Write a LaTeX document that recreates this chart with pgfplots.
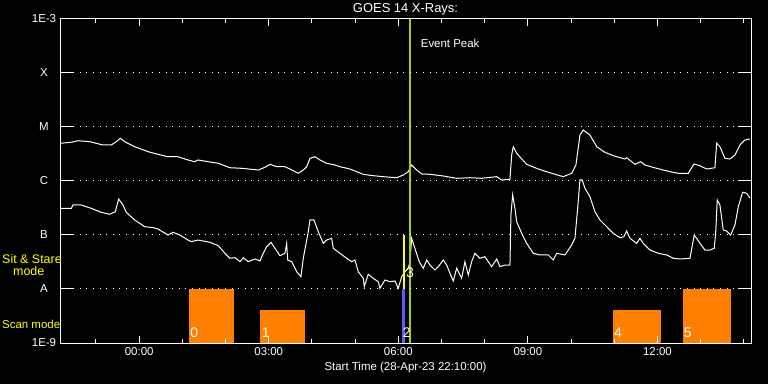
\documentclass[border=0pt]{standalone}
\usepackage{pgfplots}
\pgfplotsset{compat=1.18}
\usepackage{fontspec}
\setmainfont{Liberation Sans}
\definecolor{barorange}{RGB}{255,128,0}
\definecolor{evgreen}{RGB}{160,210,0}
\definecolor{scanblue}{RGB}{90,90,255}
\definecolor{idlyellow}{RGB}{255,255,0}
\newcommand{\tf}{\fontsize{11.5}{13}\selectfont}
\begin{document}
\begin{tikzpicture}
\fill[black] (0,0) rectangle (768bp,384bp);
\useasboundingbox (0,0) rectangle (768bp,384bp);
\begin{axis}[
  at={(60bp,41bp)}, anchor=south west,
  scale only axis, width=691bp, height=324bp,
  xmin=-1.8333, xmax=14.1667, ymin=-9, ymax=-3,
  axis on top,
  axis line style={white, line width=1bp},
  xtick={0,3,6,9,12}, xticklabels={00:00,03:00,06:00,09:00,12:00},
  minor xtick={-1,1,2,4,5,7,8,10,11,13,14},
  ytick={-9,-8,-7,-6,-5,-4,-3}, yticklabels={1E-9,A,B,C,M,X,1E-3},
  tick align=inside,
  tick style={white, line width=1bp},
  xtick style={/pgfplots/major tick length=7bp, /pgfplots/minor tick length=4bp},
  ytick style={/pgfplots/major tick length=13bp},
  ymajorgrids,
  y grid style={white, line width=1bp, dash pattern=on 1bp off 5.6bp},
  tick label style={white, font=\tf},
  yticklabel style={anchor=center, xshift=-16bp},
  xticklabel style={yshift=-1bp},
]
% scan bars
\addplot[fill=barorange, draw=none] coordinates {(1.153,-9) (1.153,-8) (2.195,-8) (2.195,-9)} --cycle;
\addplot[fill=barorange, draw=none] coordinates {(2.797,-9) (2.797,-8.389) (3.839,-8.389) (3.839,-9)} --cycle;
\addplot[fill=barorange, draw=none] coordinates {(10.970,-9) (10.970,-8.389) (12.081,-8.389) (12.081,-9)} --cycle;
\addplot[fill=barorange, draw=none] coordinates {(12.592,-9) (12.592,-8) (13.703,-8) (13.703,-9)} --cycle;
\addplot[fill=scanblue, draw=none] coordinates {(6.085,-9) (6.085,-8) (6.154,-8) (6.154,-9)} --cycle;
% long channel (1-8 A)
\addplot[white, line width=1bp, mark=none] table {
-1.833 -5.302
-1.572 -5.283
-1.417 -5.254
-1.146 -5.272
-0.838 -5.333
-0.646 -5.333
-0.530 -5.272
-0.438 -5.209
-0.336 -5.272
-0.104 -5.365
0.204 -5.457
0.435 -5.506
0.667 -5.550
0.898 -5.550
1.130 -5.611
1.285 -5.643
1.361 -5.611
1.600 -5.643
1.831 -5.672
2.102 -5.754
2.373 -5.765
2.758 -5.796
2.913 -5.746
3.029 -5.691
3.184 -5.735
3.376 -5.735
3.531 -5.796
3.684 -5.857
3.800 -5.796
3.878 -5.735
3.955 -5.580
4.070 -5.550
4.186 -5.611
4.341 -5.672
4.534 -5.704
4.649 -5.735
4.881 -5.778
5.189 -5.876
5.420 -5.902
5.652 -5.920
5.962 -5.939
6.115 -5.889
6.231 -5.828
6.309 -5.704
6.425 -5.796
6.541 -5.870
6.733 -5.876
7.041 -5.907
7.351 -5.950
7.659 -5.939
7.930 -5.950
8.278 -5.920
8.393 -5.981
8.585 -5.969
8.625 -5.519
8.662 -5.365
8.741 -5.487
8.972 -5.691
9.241 -5.778
9.551 -5.857
9.819 -5.920
10.014 -5.857
10.113 -5.704
10.206 -5.148
10.282 -5.056
10.437 -5.148
10.593 -5.365
10.785 -5.469
10.977 -5.531
11.248 -5.593
11.287 -5.569
11.480 -5.691
11.612 -5.643
11.711 -5.704
11.982 -5.765
12.290 -5.828
12.482 -5.857
12.714 -5.857
12.846 -5.685
12.985 -5.717
13.140 -5.778
13.332 -5.754
13.371 -5.302
13.447 -5.365
13.563 -5.580
13.679 -5.593
13.795 -5.519
13.911 -5.333
14.026 -5.241
14.142 -5.222
};
% short channel (0.5-4 A)
\addplot[white, line width=1bp, mark=none] table {
-1.833 -6.506
-1.572 -6.506
-1.533 -6.444
-1.341 -6.444
-1.109 -6.506
-0.878 -6.580
-0.683 -6.617
-0.553 -6.569
-0.475 -6.333
-0.375 -6.444
-0.299 -6.580
-0.104 -6.722
0.127 -6.846
0.336 -6.865
0.435 -6.889
0.667 -7.000
0.783 -6.950
0.938 -7.000
1.130 -7.093
1.206 -7.124
1.361 -7.093
1.639 -7.135
1.831 -7.198
1.987 -7.339
2.102 -7.431
2.218 -7.420
2.334 -7.494
2.410 -7.420
2.526 -7.494
2.681 -7.444
2.797 -7.481
2.873 -7.339
2.952 -7.217
3.052 -7.135
3.144 -7.246
3.260 -7.383
3.376 -7.339
3.415 -7.154
3.438 -7.463
3.531 -7.494
3.647 -7.680
3.746 -7.772
3.800 -7.431
3.915 -6.939
3.955 -6.722
4.047 -6.722
4.147 -6.939
4.263 -7.154
4.341 -7.093
4.457 -7.061
4.494 -7.246
4.649 -7.339
4.804 -7.431
4.920 -7.494
4.996 -7.463
5.073 -7.680
5.189 -7.802
5.212 -7.957
5.304 -7.728
5.420 -7.802
5.536 -7.865
5.575 -7.987
5.691 -7.833
5.807 -7.865
5.923 -7.852
5.999 -7.987
6.078 -7.772
6.154 -7.680
6.231 -7.617
6.270 -7.494
6.309 -7.061
6.409 -7.309
6.485 -7.494
6.578 -7.617
6.657 -7.463
6.733 -7.556
6.849 -7.648
6.925 -7.587
7.041 -7.463
7.120 -7.556
7.196 -7.709
7.272 -7.852
7.351 -7.617
7.467 -7.802
7.543 -7.494
7.620 -7.741
7.698 -7.494
7.775 -7.339
7.891 -7.431
8.006 -7.402
8.162 -7.587
8.278 -7.444
8.354 -7.587
8.470 -7.556
8.585 -7.556
8.608 -6.630
8.648 -6.259
8.701 -6.506
8.741 -6.754
8.856 -6.969
8.972 -7.154
9.125 -7.339
9.280 -7.370
9.472 -7.370
9.588 -7.463
9.667 -7.339
9.859 -7.370
10.014 -7.185
10.090 -7.061
10.153 -6.506
10.206 -5.981
10.259 -5.981
10.322 -6.135
10.437 -6.291
10.553 -6.569
10.669 -6.722
10.824 -6.846
10.977 -6.969
11.132 -7.050
11.225 -7.031
11.287 -6.926
11.364 -7.061
11.519 -7.154
11.595 -7.061
11.672 -7.154
11.827 -7.278
12.019 -7.339
12.213 -7.370
12.366 -7.431
12.521 -7.444
12.753 -7.431
12.853 -7.000
12.985 -7.154
13.100 -7.278
13.216 -7.278
13.316 -7.246
13.348 -6.969
13.385 -6.352
13.447 -6.444
13.524 -6.907
13.603 -6.926
13.696 -7.000
13.795 -6.815
13.872 -6.476
13.973 -6.209
14.066 -6.228
14.147 -6.320
};
% marker lines
\addplot[idlyellow, line width=1.4bp, mark=none] coordinates {(6.131,-7) (6.131,-8)};
\addplot[evgreen, line width=2.5bp, mark=none] coordinates {(6.270,-9) (6.270,-3)};
% labels
\node[white, font=\fontsize{14}{16}\selectfont, anchor=base west, inner sep=0pt] at (axis cs:1.18,-8.907) {0};
\node[white, font=\fontsize{14}{16}\selectfont, anchor=base west, inner sep=0pt] at (axis cs:2.836,-8.907) {1};
\node[white, font=\fontsize{14}{16}\selectfont, anchor=base west, inner sep=0pt] at (axis cs:6.101,-8.907) {2};
\node[white, font=\fontsize{14}{16}\selectfont, anchor=base west, inner sep=0pt] at (axis cs:6.177,-7.787) {3};
\node[white, font=\fontsize{14}{16}\selectfont, anchor=base west, inner sep=0pt] at (axis cs:10.99,-8.907) {4};
\node[white, font=\fontsize{14}{16}\selectfont, anchor=base west, inner sep=0pt] at (axis cs:12.61,-8.907) {5};
\node[white, font=\tf, anchor=west, inner sep=0pt] at (axis cs:6.518,-3.444) {Event Peak};
\end{axis}
\node[white, font=\fontsize{13}{15}\selectfont, inner sep=0pt] at (405.5bp,375bp) {GOES 14 X-Rays:};
\node[white, font=\tf, inner sep=0pt] at (405.5bp,16bp) {Start Time (28-Apr-23 22:10:00)};
\node[idlyellow, font=\fontsize{12.5}{14}\selectfont, anchor=west, inner sep=0pt] at (2bp,125bp) {Sit \& Stare};
\node[idlyellow, font=\fontsize{12.5}{14}\selectfont, anchor=west, inner sep=0pt] at (13bp,113bp) {mode};
\node[idlyellow, font=\tf, anchor=west, inner sep=0pt] at (2bp,60bp) {Scan mode};
\end{tikzpicture}
\end{document}
